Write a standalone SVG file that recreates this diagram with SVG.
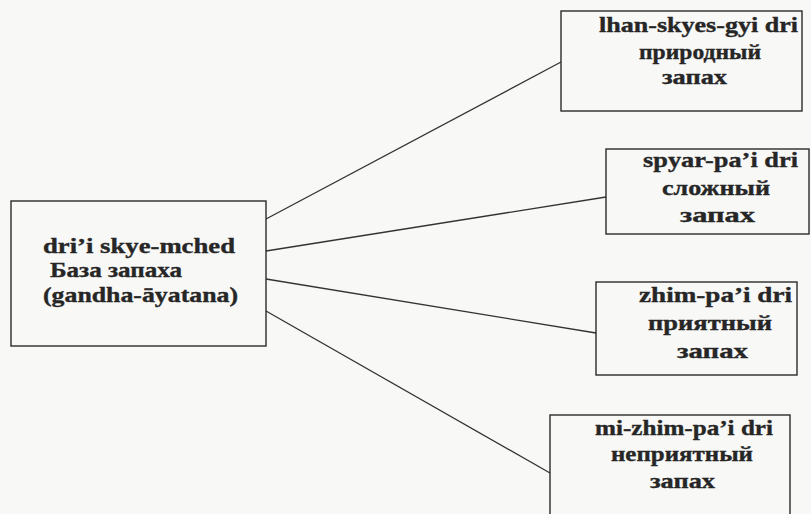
<svg xmlns="http://www.w3.org/2000/svg" width="811" height="514" viewBox="0 0 811 514">
<style>
.box{fill:none;stroke:#2b2b2b;stroke-width:1.4}
.ln{stroke:#333;stroke-width:1.3;fill:none}
text{font-family:"Liberation Serif","Times New Roman",serif;font-weight:bold;font-size:21px;fill:#262626;stroke:#262626;stroke-width:0.35}
.c{text-anchor:middle}
</style>
<rect width="811" height="514" fill="#f8f8f7"/>
<g id="connectors">
<line class="ln" x1="266" y1="219" x2="561" y2="62"/>
<line class="ln" x1="266" y1="251" x2="606" y2="197"/>
<line class="ln" x1="266" y1="279" x2="596" y2="333"/>
<line class="ln" x1="266" y1="311" x2="550" y2="473"/>
</g>
<g id="root">
<rect class="box" x="11" y="201" width="255" height="145"/>
<text x="43" y="253" textLength="192" lengthAdjust="spacingAndGlyphs">dri’i skye-mched</text>
<text x="50" y="277" textLength="132" lengthAdjust="spacingAndGlyphs">База запаха</text>
<text x="43" y="302" textLength="195" lengthAdjust="spacingAndGlyphs">(gandha-āyatana)</text>
</g>
<g id="n1">
<rect class="box" x="561" y="11" width="241" height="100"/>
<text class="c" x="698.5" y="32" textLength="199" lengthAdjust="spacingAndGlyphs">lhan-skyes-gyi dri</text>
<text class="c" x="700" y="59" textLength="122" lengthAdjust="spacingAndGlyphs">природный</text>
<text class="c" x="694.5" y="84" textLength="65" lengthAdjust="spacingAndGlyphs">запах</text>
</g>
<g id="n2">
<rect class="box" x="606" y="149" width="203" height="85"/>
<text class="c" x="720.5" y="167" textLength="155" lengthAdjust="spacingAndGlyphs">spyar-pa’i dri</text>
<text class="c" x="716" y="195" textLength="108" lengthAdjust="spacingAndGlyphs">сложный</text>
<text class="c" x="717.5" y="222" textLength="75" lengthAdjust="spacingAndGlyphs">запах</text>
</g>
<g id="n3">
<rect class="box" x="596" y="282" width="201" height="93"/>
<text class="c" x="715.5" y="302" textLength="153" lengthAdjust="spacingAndGlyphs">zhim-pa’i dri</text>
<text class="c" x="710" y="330" textLength="124" lengthAdjust="spacingAndGlyphs">приятный</text>
<text class="c" x="712.5" y="358" textLength="71" lengthAdjust="spacingAndGlyphs">запах</text>
</g>
<g id="n4">
<rect class="box" x="550" y="415" width="240" height="110"/>
<text class="c" x="684" y="435" textLength="178" lengthAdjust="spacingAndGlyphs">mi-zhim-pa’i dri</text>
<text class="c" x="682" y="461" textLength="142" lengthAdjust="spacingAndGlyphs">неприятный</text>
<text class="c" x="682.5" y="488" textLength="65" lengthAdjust="spacingAndGlyphs">запах</text>
</g>
</svg>
